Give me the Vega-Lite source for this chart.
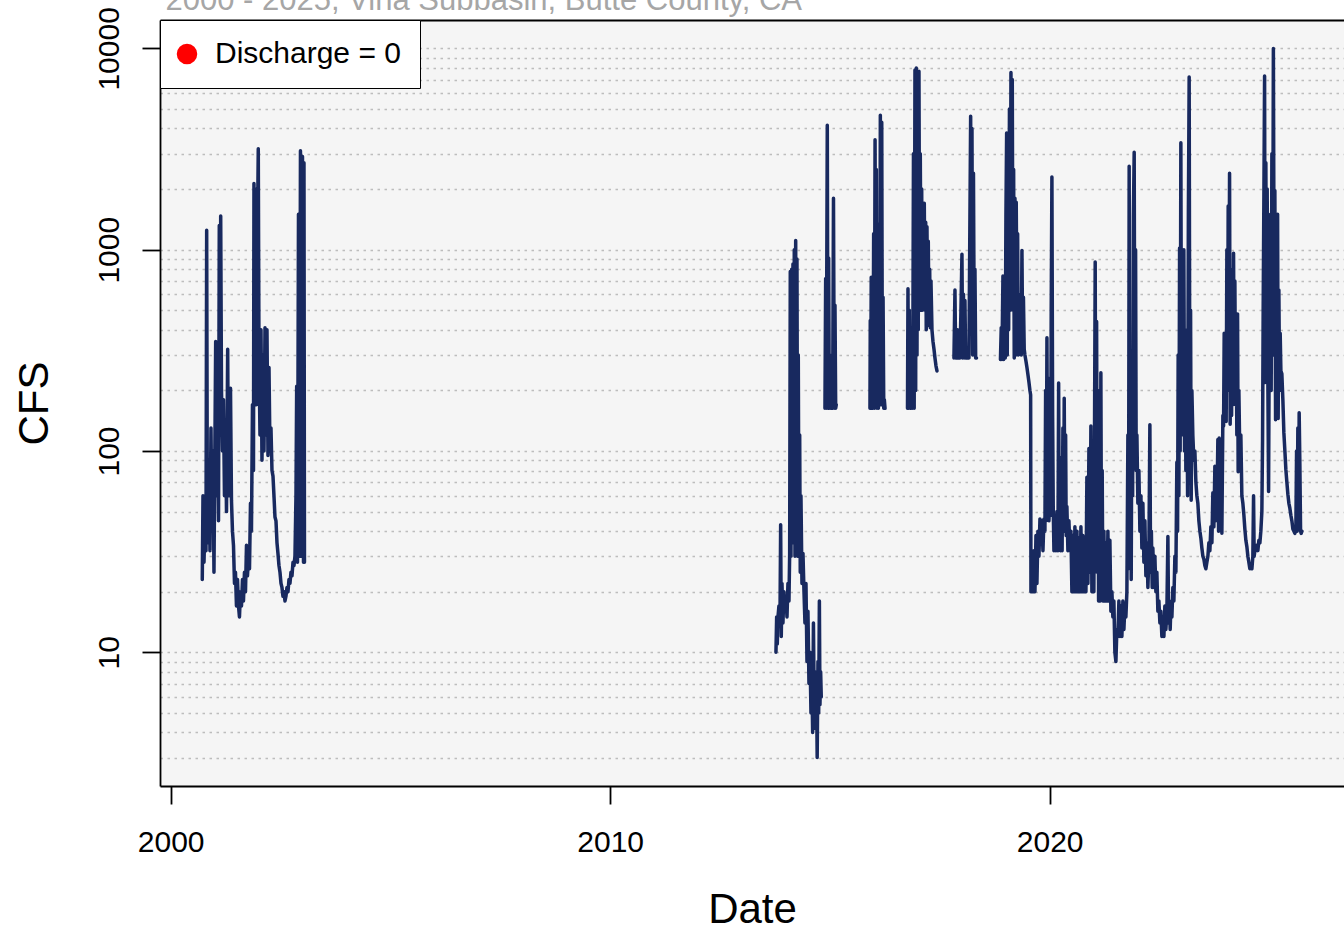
{
  "$schema": "https://vega.github.io/schema/vega-lite/v6.json",
  "autosize": "none",
  "width": 1184,
  "height": 766,
  "padding": {"left": 160, "top": 20, "right": 0, "bottom": 146},
  "background": "white",
  "config": {
    "font": "Liberation Sans",
    "view": {"stroke": null, "fill": "#F5F5F5"}
  },
  "data": {
    "values": [
      {"year": 2000.719, "cfs": 23}, {"year": 2000.735, "cfs": 60}, {"year": 2000.758, "cfs": 28}, {"year": 2000.780, "cfs": 45},
      {"year": 2000.803, "cfs": 32}, {"year": 2000.819, "cfs": 1250}, {"year": 2000.833, "cfs": 60}, {"year": 2000.849, "cfs": 35},
      {"year": 2000.871, "cfs": 90}, {"year": 2000.894, "cfs": 32}, {"year": 2000.917, "cfs": 130}, {"year": 2000.940, "cfs": 40},
      {"year": 2000.962, "cfs": 100}, {"year": 2000.985, "cfs": 25}, {"year": 2001.008, "cfs": 120}, {"year": 2001.024, "cfs": 350},
      {"year": 2001.042, "cfs": 60}, {"year": 2001.065, "cfs": 180}, {"year": 2001.088, "cfs": 45}, {"year": 2001.106, "cfs": 1320},
      {"year": 2001.122, "cfs": 120}, {"year": 2001.138, "cfs": 1470}, {"year": 2001.156, "cfs": 200}, {"year": 2001.179, "cfs": 100},
      {"year": 2001.201, "cfs": 180}, {"year": 2001.224, "cfs": 60}, {"year": 2001.247, "cfs": 140}, {"year": 2001.270, "cfs": 50},
      {"year": 2001.297, "cfs": 320}, {"year": 2001.315, "cfs": 60}, {"year": 2001.338, "cfs": 110}, {"year": 2001.361, "cfs": 205},
      {"year": 2001.383, "cfs": 57}, {"year": 2001.406, "cfs": 40}, {"year": 2001.429, "cfs": 34}, {"year": 2001.452, "cfs": 22},
      {"year": 2001.474, "cfs": 25}, {"year": 2001.497, "cfs": 17}, {"year": 2001.520, "cfs": 23}, {"year": 2001.543, "cfs": 17},
      {"year": 2001.565, "cfs": 15}, {"year": 2001.588, "cfs": 20}, {"year": 2001.611, "cfs": 17}, {"year": 2001.634, "cfs": 23},
      {"year": 2001.656, "cfs": 18}, {"year": 2001.679, "cfs": 25}, {"year": 2001.702, "cfs": 20}, {"year": 2001.725, "cfs": 34},
      {"year": 2001.747, "cfs": 24}, {"year": 2001.770, "cfs": 30}, {"year": 2001.793, "cfs": 26}, {"year": 2001.816, "cfs": 55},
      {"year": 2001.838, "cfs": 40}, {"year": 2001.861, "cfs": 170}, {"year": 2001.884, "cfs": 80}, {"year": 2001.895, "cfs": 2130},
      {"year": 2001.911, "cfs": 580}, {"year": 2001.929, "cfs": 2000}, {"year": 2001.948, "cfs": 170}, {"year": 2001.970, "cfs": 1000},
      {"year": 2001.993, "cfs": 3170}, {"year": 2002.009, "cfs": 300}, {"year": 2002.032, "cfs": 120}, {"year": 2002.055, "cfs": 400},
      {"year": 2002.077, "cfs": 90}, {"year": 2002.100, "cfs": 300}, {"year": 2002.123, "cfs": 100}, {"year": 2002.146, "cfs": 410},
      {"year": 2002.168, "cfs": 120}, {"year": 2002.191, "cfs": 400}, {"year": 2002.214, "cfs": 95}, {"year": 2002.237, "cfs": 260},
      {"year": 2002.259, "cfs": 100}, {"year": 2002.282, "cfs": 130}, {"year": 2002.305, "cfs": 80}, {"year": 2002.328, "cfs": 75},
      {"year": 2002.350, "cfs": 60}, {"year": 2002.373, "cfs": 47}, {"year": 2002.396, "cfs": 45}, {"year": 2002.419, "cfs": 35},
      {"year": 2002.441, "cfs": 31}, {"year": 2002.464, "cfs": 27}, {"year": 2002.487, "cfs": 25}, {"year": 2002.510, "cfs": 22},
      {"year": 2002.532, "cfs": 21}, {"year": 2002.555, "cfs": 19}, {"year": 2002.578, "cfs": 20}, {"year": 2002.601, "cfs": 18},
      {"year": 2002.623, "cfs": 19}, {"year": 2002.646, "cfs": 21}, {"year": 2002.669, "cfs": 20}, {"year": 2002.692, "cfs": 23},
      {"year": 2002.714, "cfs": 22}, {"year": 2002.737, "cfs": 25}, {"year": 2002.760, "cfs": 24}, {"year": 2002.783, "cfs": 28},
      {"year": 2002.805, "cfs": 27}, {"year": 2002.828, "cfs": 30}, {"year": 2002.851, "cfs": 60}, {"year": 2002.867, "cfs": 210},
      {"year": 2002.885, "cfs": 28}, {"year": 2002.908, "cfs": 1500}, {"year": 2002.931, "cfs": 30}, {"year": 2002.953, "cfs": 3100},
      {"year": 2002.976, "cfs": 30}, {"year": 2002.999, "cfs": 2900}, {"year": 2003.022, "cfs": 28}, {"year": 2003.033, "cfs": 2700},
      {"year": 2003.044, "cfs": 28},
      {"year": 2003.5, "cfs": null},
      {"year": 2013.772, "cfs": 10}, {"year": 2013.788, "cfs": 15}, {"year": 2013.802, "cfs": 11}, {"year": 2013.818, "cfs": 15},
      {"year": 2013.840, "cfs": 17}, {"year": 2013.863, "cfs": 14}, {"year": 2013.879, "cfs": 43}, {"year": 2013.893, "cfs": 12},
      {"year": 2013.909, "cfs": 22}, {"year": 2013.931, "cfs": 14}, {"year": 2013.954, "cfs": 20}, {"year": 2013.977, "cfs": 16},
      {"year": 2014.000, "cfs": 19}, {"year": 2014.023, "cfs": 15}, {"year": 2014.045, "cfs": 22}, {"year": 2014.068, "cfs": 18},
      {"year": 2014.084, "cfs": 31}, {"year": 2014.098, "cfs": 780}, {"year": 2014.114, "cfs": 30}, {"year": 2014.130, "cfs": 800},
      {"year": 2014.143, "cfs": 40}, {"year": 2014.159, "cfs": 850}, {"year": 2014.175, "cfs": 35}, {"year": 2014.189, "cfs": 1000},
      {"year": 2014.205, "cfs": 30}, {"year": 2014.221, "cfs": 1110}, {"year": 2014.234, "cfs": 40}, {"year": 2014.250, "cfs": 900},
      {"year": 2014.266, "cfs": 30}, {"year": 2014.280, "cfs": 300}, {"year": 2014.296, "cfs": 30}, {"year": 2014.312, "cfs": 120},
      {"year": 2014.325, "cfs": 25}, {"year": 2014.341, "cfs": 60}, {"year": 2014.364, "cfs": 22}, {"year": 2014.387, "cfs": 31},
      {"year": 2014.410, "cfs": 20}, {"year": 2014.432, "cfs": 14}, {"year": 2014.455, "cfs": 22}, {"year": 2014.478, "cfs": 9},
      {"year": 2014.500, "cfs": 16}, {"year": 2014.523, "cfs": 7}, {"year": 2014.546, "cfs": 10}, {"year": 2014.569, "cfs": 5},
      {"year": 2014.591, "cfs": 7}, {"year": 2014.607, "cfs": 4}, {"year": 2014.625, "cfs": 14}, {"year": 2014.644, "cfs": 5},
      {"year": 2014.660, "cfs": 8}, {"year": 2014.676, "cfs": 4.2}, {"year": 2014.694, "cfs": 7}, {"year": 2014.710, "cfs": 3},
      {"year": 2014.728, "cfs": 9}, {"year": 2014.744, "cfs": 5}, {"year": 2014.760, "cfs": 18}, {"year": 2014.773, "cfs": 5.5},
      {"year": 2014.789, "cfs": 8}, {"year": 2014.803, "cfs": 6},
      {"year": 2014.85, "cfs": null},
      {"year": 2014.887, "cfs": 163}, {"year": 2014.903, "cfs": 720}, {"year": 2014.917, "cfs": 163}, {"year": 2014.940, "cfs": 4150},
      {"year": 2014.956, "cfs": 163}, {"year": 2014.971, "cfs": 910}, {"year": 2014.985, "cfs": 163}, {"year": 2015.001, "cfs": 300},
      {"year": 2015.017, "cfs": 163}, {"year": 2015.062, "cfs": 163}, {"year": 2015.081, "cfs": 1800}, {"year": 2015.099, "cfs": 163},
      {"year": 2015.115, "cfs": 530}, {"year": 2015.131, "cfs": 163}, {"year": 2015.144, "cfs": 170},
      {"year": 2015.5, "cfs": null},
      {"year": 2015.911, "cfs": 163}, {"year": 2015.918, "cfs": 445}, {"year": 2015.927, "cfs": 163}, {"year": 2015.940, "cfs": 730},
      {"year": 2015.952, "cfs": 163}, {"year": 2015.968, "cfs": 600}, {"year": 2015.979, "cfs": 163}, {"year": 2015.995, "cfs": 1200},
      {"year": 2016.011, "cfs": 163}, {"year": 2016.027, "cfs": 3520}, {"year": 2016.043, "cfs": 200}, {"year": 2016.056, "cfs": 2500},
      {"year": 2016.072, "cfs": 163}, {"year": 2016.088, "cfs": 1340}, {"year": 2016.102, "cfs": 163}, {"year": 2016.118, "cfs": 900},
      {"year": 2016.134, "cfs": 180}, {"year": 2016.147, "cfs": 4650}, {"year": 2016.163, "cfs": 170}, {"year": 2016.179, "cfs": 4300},
      {"year": 2016.193, "cfs": 200}, {"year": 2016.209, "cfs": 580}, {"year": 2016.225, "cfs": 163}, {"year": 2016.238, "cfs": 180},
      {"year": 2016.254, "cfs": 163},
      {"year": 2016.5, "cfs": null},
      {"year": 2016.765, "cfs": 163}, {"year": 2016.776, "cfs": 640}, {"year": 2016.788, "cfs": 163}, {"year": 2016.806, "cfs": 500},
      {"year": 2016.822, "cfs": 163}, {"year": 2016.838, "cfs": 350}, {"year": 2016.851, "cfs": 163}, {"year": 2016.867, "cfs": 250},
      {"year": 2016.883, "cfs": 163}, {"year": 2016.901, "cfs": 3000}, {"year": 2016.917, "cfs": 163}, {"year": 2016.935, "cfs": 7800},
      {"year": 2016.951, "cfs": 200}, {"year": 2016.965, "cfs": 8000}, {"year": 2016.981, "cfs": 300}, {"year": 2016.997, "cfs": 6500},
      {"year": 2017.010, "cfs": 400}, {"year": 2017.026, "cfs": 7700}, {"year": 2017.042, "cfs": 500}, {"year": 2017.056, "cfs": 3000},
      {"year": 2017.072, "cfs": 600}, {"year": 2017.088, "cfs": 2000}, {"year": 2017.101, "cfs": 500}, {"year": 2017.117, "cfs": 1500},
      {"year": 2017.133, "cfs": 600}, {"year": 2017.147, "cfs": 1700}, {"year": 2017.163, "cfs": 500}, {"year": 2017.179, "cfs": 1370},
      {"year": 2017.192, "cfs": 400}, {"year": 2017.208, "cfs": 1300}, {"year": 2017.224, "cfs": 450}, {"year": 2017.238, "cfs": 1100},
      {"year": 2017.254, "cfs": 420}, {"year": 2017.270, "cfs": 800}, {"year": 2017.283, "cfs": 410}, {"year": 2017.299, "cfs": 700},
      {"year": 2017.322, "cfs": 400}, {"year": 2017.345, "cfs": 350}, {"year": 2017.368, "cfs": 320}, {"year": 2017.390, "cfs": 290},
      {"year": 2017.413, "cfs": 265}, {"year": 2017.436, "cfs": 250},
      {"year": 2017.6, "cfs": null},
      {"year": 2017.822, "cfs": 290}, {"year": 2017.845, "cfs": 630}, {"year": 2017.861, "cfs": 290}, {"year": 2017.890, "cfs": 290},
      {"year": 2017.902, "cfs": 400}, {"year": 2017.913, "cfs": 290}, {"year": 2017.959, "cfs": 290}, {"year": 2017.981, "cfs": 500},
      {"year": 2018.004, "cfs": 950}, {"year": 2018.020, "cfs": 290}, {"year": 2018.038, "cfs": 600}, {"year": 2018.054, "cfs": 290},
      {"year": 2018.072, "cfs": 560}, {"year": 2018.088, "cfs": 290}, {"year": 2018.118, "cfs": 290}, {"year": 2018.141, "cfs": 300},
      {"year": 2018.163, "cfs": 290}, {"year": 2018.186, "cfs": 1500}, {"year": 2018.202, "cfs": 4600}, {"year": 2018.216, "cfs": 700},
      {"year": 2018.232, "cfs": 4000}, {"year": 2018.248, "cfs": 300}, {"year": 2018.266, "cfs": 2400}, {"year": 2018.284, "cfs": 350},
      {"year": 2018.300, "cfs": 800}, {"year": 2018.316, "cfs": 290}, {"year": 2018.335, "cfs": 290},
      {"year": 2018.6, "cfs": null},
      {"year": 2018.880, "cfs": 285}, {"year": 2018.898, "cfs": 410}, {"year": 2018.914, "cfs": 285}, {"year": 2018.937, "cfs": 740},
      {"year": 2018.953, "cfs": 285}, {"year": 2018.971, "cfs": 600}, {"year": 2018.989, "cfs": 290}, {"year": 2019.005, "cfs": 1500},
      {"year": 2019.021, "cfs": 3800}, {"year": 2019.035, "cfs": 300}, {"year": 2019.051, "cfs": 3000}, {"year": 2019.067, "cfs": 400},
      {"year": 2019.085, "cfs": 5000}, {"year": 2019.103, "cfs": 500}, {"year": 2019.119, "cfs": 7600}, {"year": 2019.135, "cfs": 600},
      {"year": 2019.149, "cfs": 7000}, {"year": 2019.164, "cfs": 500}, {"year": 2019.180, "cfs": 2500}, {"year": 2019.194, "cfs": 290},
      {"year": 2019.210, "cfs": 1800}, {"year": 2019.226, "cfs": 300}, {"year": 2019.239, "cfs": 1720}, {"year": 2019.255, "cfs": 505},
      {"year": 2019.271, "cfs": 1200}, {"year": 2019.285, "cfs": 300}, {"year": 2019.301, "cfs": 600}, {"year": 2019.317, "cfs": 320},
      {"year": 2019.335, "cfs": 400}, {"year": 2019.353, "cfs": 300}, {"year": 2019.369, "cfs": 990}, {"year": 2019.385, "cfs": 350},
      {"year": 2019.403, "cfs": 580}, {"year": 2019.421, "cfs": 320}, {"year": 2019.437, "cfs": 300}, {"year": 2019.460, "cfs": 280},
      {"year": 2019.483, "cfs": 260}, {"year": 2019.505, "cfs": 240}, {"year": 2019.528, "cfs": 220}, {"year": 2019.551, "cfs": 200},
      {"year": 2019.567, "cfs": 190}, {"year": 2019.574, "cfs": 20}, {"year": 2019.597, "cfs": 24}, {"year": 2019.619, "cfs": 20},
      {"year": 2019.642, "cfs": 32}, {"year": 2019.665, "cfs": 20}, {"year": 2019.688, "cfs": 38}, {"year": 2019.710, "cfs": 22},
      {"year": 2019.733, "cfs": 40}, {"year": 2019.756, "cfs": 30}, {"year": 2019.779, "cfs": 46}, {"year": 2019.801, "cfs": 35},
      {"year": 2019.824, "cfs": 45}, {"year": 2019.847, "cfs": 32}, {"year": 2019.870, "cfs": 46}, {"year": 2019.892, "cfs": 40},
      {"year": 2019.908, "cfs": 200}, {"year": 2019.922, "cfs": 45}, {"year": 2019.938, "cfs": 365}, {"year": 2019.954, "cfs": 50},
      {"year": 2019.967, "cfs": 230}, {"year": 2019.983, "cfs": 45}, {"year": 2020.006, "cfs": 60}, {"year": 2020.022, "cfs": 48},
      {"year": 2020.035, "cfs": 500}, {"year": 2020.051, "cfs": 2300}, {"year": 2020.067, "cfs": 150}, {"year": 2020.081, "cfs": 53},
      {"year": 2020.097, "cfs": 32}, {"year": 2020.119, "cfs": 45}, {"year": 2020.142, "cfs": 32}, {"year": 2020.165, "cfs": 50},
      {"year": 2020.188, "cfs": 32}, {"year": 2020.204, "cfs": 218}, {"year": 2020.217, "cfs": 40}, {"year": 2020.233, "cfs": 93},
      {"year": 2020.249, "cfs": 32}, {"year": 2020.267, "cfs": 80}, {"year": 2020.283, "cfs": 32}, {"year": 2020.301, "cfs": 130},
      {"year": 2020.317, "cfs": 40}, {"year": 2020.331, "cfs": 183}, {"year": 2020.347, "cfs": 45}, {"year": 2020.363, "cfs": 120},
      {"year": 2020.376, "cfs": 38}, {"year": 2020.392, "cfs": 53}, {"year": 2020.415, "cfs": 32}, {"year": 2020.438, "cfs": 45},
      {"year": 2020.461, "cfs": 32}, {"year": 2020.483, "cfs": 40}, {"year": 2020.506, "cfs": 20}, {"year": 2020.529, "cfs": 38},
      {"year": 2020.552, "cfs": 20}, {"year": 2020.574, "cfs": 42}, {"year": 2020.597, "cfs": 20}, {"year": 2020.620, "cfs": 40},
      {"year": 2020.643, "cfs": 20}, {"year": 2020.665, "cfs": 37}, {"year": 2020.688, "cfs": 20}, {"year": 2020.711, "cfs": 42},
      {"year": 2020.734, "cfs": 20}, {"year": 2020.756, "cfs": 38}, {"year": 2020.779, "cfs": 20}, {"year": 2020.802, "cfs": 35},
      {"year": 2020.825, "cfs": 20}, {"year": 2020.847, "cfs": 74}, {"year": 2020.870, "cfs": 22}, {"year": 2020.893, "cfs": 103},
      {"year": 2020.916, "cfs": 25}, {"year": 2020.938, "cfs": 133}, {"year": 2020.961, "cfs": 20}, {"year": 2020.984, "cfs": 90},
      {"year": 2021.006, "cfs": 20}, {"year": 2021.036, "cfs": 870}, {"year": 2021.052, "cfs": 40}, {"year": 2021.068, "cfs": 440},
      {"year": 2021.081, "cfs": 25}, {"year": 2021.097, "cfs": 200}, {"year": 2021.113, "cfs": 18}, {"year": 2021.131, "cfs": 100},
      {"year": 2021.149, "cfs": 18}, {"year": 2021.165, "cfs": 245}, {"year": 2021.181, "cfs": 20}, {"year": 2021.195, "cfs": 80},
      {"year": 2021.211, "cfs": 18}, {"year": 2021.234, "cfs": 40}, {"year": 2021.256, "cfs": 18}, {"year": 2021.279, "cfs": 35},
      {"year": 2021.302, "cfs": 18}, {"year": 2021.325, "cfs": 40}, {"year": 2021.347, "cfs": 18}, {"year": 2021.370, "cfs": 36},
      {"year": 2021.393, "cfs": 16}, {"year": 2021.416, "cfs": 20}, {"year": 2021.438, "cfs": 15}, {"year": 2021.461, "cfs": 18},
      {"year": 2021.484, "cfs": 10}, {"year": 2021.507, "cfs": 9}, {"year": 2021.529, "cfs": 13}, {"year": 2021.552, "cfs": 12},
      {"year": 2021.575, "cfs": 18}, {"year": 2021.598, "cfs": 12}, {"year": 2021.620, "cfs": 17}, {"year": 2021.643, "cfs": 12},
      {"year": 2021.666, "cfs": 18}, {"year": 2021.689, "cfs": 13}, {"year": 2021.711, "cfs": 17}, {"year": 2021.734, "cfs": 15},
      {"year": 2021.757, "cfs": 20}, {"year": 2021.780, "cfs": 120}, {"year": 2021.795, "cfs": 30}, {"year": 2021.809, "cfs": 2600},
      {"year": 2021.825, "cfs": 26}, {"year": 2021.841, "cfs": 295}, {"year": 2021.855, "cfs": 23}, {"year": 2021.871, "cfs": 200},
      {"year": 2021.887, "cfs": 60}, {"year": 2021.905, "cfs": 1470}, {"year": 2021.923, "cfs": 3050}, {"year": 2021.939, "cfs": 119},
      {"year": 2021.955, "cfs": 1000}, {"year": 2021.969, "cfs": 80}, {"year": 2021.985, "cfs": 120}, {"year": 2022.007, "cfs": 55},
      {"year": 2022.030, "cfs": 80}, {"year": 2022.053, "cfs": 40}, {"year": 2022.076, "cfs": 60}, {"year": 2022.098, "cfs": 33},
      {"year": 2022.121, "cfs": 55}, {"year": 2022.144, "cfs": 28}, {"year": 2022.167, "cfs": 45}, {"year": 2022.189, "cfs": 24},
      {"year": 2022.212, "cfs": 35}, {"year": 2022.235, "cfs": 21}, {"year": 2022.257, "cfs": 30}, {"year": 2022.280, "cfs": 135},
      {"year": 2022.296, "cfs": 25}, {"year": 2022.314, "cfs": 40}, {"year": 2022.333, "cfs": 21}, {"year": 2022.348, "cfs": 33},
      {"year": 2022.371, "cfs": 21}, {"year": 2022.394, "cfs": 30}, {"year": 2022.417, "cfs": 20}, {"year": 2022.439, "cfs": 25},
      {"year": 2022.462, "cfs": 16}, {"year": 2022.485, "cfs": 18}, {"year": 2022.508, "cfs": 14}, {"year": 2022.530, "cfs": 16},
      {"year": 2022.553, "cfs": 12}, {"year": 2022.576, "cfs": 15}, {"year": 2022.599, "cfs": 12}, {"year": 2022.621, "cfs": 17},
      {"year": 2022.644, "cfs": 13}, {"year": 2022.667, "cfs": 16}, {"year": 2022.690, "cfs": 37.6}, {"year": 2022.706, "cfs": 14},
      {"year": 2022.724, "cfs": 18}, {"year": 2022.742, "cfs": 13}, {"year": 2022.758, "cfs": 17}, {"year": 2022.781, "cfs": 15},
      {"year": 2022.803, "cfs": 21}, {"year": 2022.826, "cfs": 18}, {"year": 2022.849, "cfs": 30}, {"year": 2022.872, "cfs": 25},
      {"year": 2022.894, "cfs": 88}, {"year": 2022.910, "cfs": 40}, {"year": 2022.924, "cfs": 300}, {"year": 2022.940, "cfs": 60},
      {"year": 2022.956, "cfs": 1020}, {"year": 2022.969, "cfs": 100}, {"year": 2022.985, "cfs": 3400}, {"year": 2023.001, "cfs": 120},
      {"year": 2023.015, "cfs": 500}, {"year": 2023.031, "cfs": 150}, {"year": 2023.053, "cfs": 1000}, {"year": 2023.069, "cfs": 100},
      {"year": 2023.083, "cfs": 400}, {"year": 2023.099, "cfs": 80}, {"year": 2023.122, "cfs": 300}, {"year": 2023.138, "cfs": 60},
      {"year": 2023.156, "cfs": 1500}, {"year": 2023.174, "cfs": 7200}, {"year": 2023.190, "cfs": 100}, {"year": 2023.206, "cfs": 500},
      {"year": 2023.220, "cfs": 57}, {"year": 2023.236, "cfs": 200}, {"year": 2023.258, "cfs": 119}, {"year": 2023.281, "cfs": 90},
      {"year": 2023.304, "cfs": 100}, {"year": 2023.327, "cfs": 70}, {"year": 2023.349, "cfs": 60}, {"year": 2023.372, "cfs": 55},
      {"year": 2023.395, "cfs": 45}, {"year": 2023.418, "cfs": 40}, {"year": 2023.440, "cfs": 37}, {"year": 2023.463, "cfs": 33},
      {"year": 2023.486, "cfs": 30}, {"year": 2023.509, "cfs": 29}, {"year": 2023.531, "cfs": 27}, {"year": 2023.554, "cfs": 26},
      {"year": 2023.577, "cfs": 28}, {"year": 2023.600, "cfs": 30}, {"year": 2023.622, "cfs": 35}, {"year": 2023.645, "cfs": 32},
      {"year": 2023.668, "cfs": 42}, {"year": 2023.691, "cfs": 35}, {"year": 2023.713, "cfs": 62}, {"year": 2023.736, "cfs": 42},
      {"year": 2023.759, "cfs": 84}, {"year": 2023.775, "cfs": 45}, {"year": 2023.788, "cfs": 62}, {"year": 2023.804, "cfs": 50},
      {"year": 2023.827, "cfs": 114}, {"year": 2023.843, "cfs": 40}, {"year": 2023.857, "cfs": 116}, {"year": 2023.873, "cfs": 45},
      {"year": 2023.895, "cfs": 100}, {"year": 2023.918, "cfs": 39}, {"year": 2023.941, "cfs": 150}, {"year": 2023.957, "cfs": 133},
      {"year": 2023.971, "cfs": 385}, {"year": 2023.986, "cfs": 140}, {"year": 2024.002, "cfs": 300}, {"year": 2024.016, "cfs": 140},
      {"year": 2024.032, "cfs": 1000}, {"year": 2024.048, "cfs": 200}, {"year": 2024.062, "cfs": 1650}, {"year": 2024.077, "cfs": 300},
      {"year": 2024.093, "cfs": 2400}, {"year": 2024.107, "cfs": 136}, {"year": 2024.123, "cfs": 800}, {"year": 2024.139, "cfs": 150},
      {"year": 2024.153, "cfs": 500}, {"year": 2024.168, "cfs": 170}, {"year": 2024.184, "cfs": 960}, {"year": 2024.198, "cfs": 200},
      {"year": 2024.214, "cfs": 700}, {"year": 2024.230, "cfs": 170}, {"year": 2024.243, "cfs": 400}, {"year": 2024.259, "cfs": 120},
      {"year": 2024.275, "cfs": 480}, {"year": 2024.289, "cfs": 79}, {"year": 2024.305, "cfs": 200}, {"year": 2024.328, "cfs": 90},
      {"year": 2024.350, "cfs": 120}, {"year": 2024.373, "cfs": 60}, {"year": 2024.396, "cfs": 55}, {"year": 2024.419, "cfs": 48},
      {"year": 2024.441, "cfs": 41}, {"year": 2024.464, "cfs": 36}, {"year": 2024.487, "cfs": 33.5}, {"year": 2024.510, "cfs": 30},
      {"year": 2024.532, "cfs": 28}, {"year": 2024.555, "cfs": 26}, {"year": 2024.578, "cfs": 27}, {"year": 2024.601, "cfs": 26},
      {"year": 2024.623, "cfs": 30}, {"year": 2024.639, "cfs": 60}, {"year": 2024.653, "cfs": 30}, {"year": 2024.669, "cfs": 32},
      {"year": 2024.692, "cfs": 32}, {"year": 2024.714, "cfs": 34}, {"year": 2024.737, "cfs": 32}, {"year": 2024.760, "cfs": 36},
      {"year": 2024.783, "cfs": 35}, {"year": 2024.805, "cfs": 40}, {"year": 2024.828, "cfs": 50}, {"year": 2024.844, "cfs": 114},
      {"year": 2024.858, "cfs": 500}, {"year": 2024.874, "cfs": 1820}, {"year": 2024.890, "cfs": 7300}, {"year": 2024.903, "cfs": 219},
      {"year": 2024.919, "cfs": 2700}, {"year": 2024.935, "cfs": 300}, {"year": 2024.949, "cfs": 2000}, {"year": 2024.965, "cfs": 219},
      {"year": 2024.981, "cfs": 63}, {"year": 2024.994, "cfs": 300}, {"year": 2025.010, "cfs": 219}, {"year": 2025.026, "cfs": 1500},
      {"year": 2025.040, "cfs": 200}, {"year": 2025.056, "cfs": 3000}, {"year": 2025.072, "cfs": 300}, {"year": 2025.090, "cfs": 10000},
      {"year": 2025.108, "cfs": 500}, {"year": 2025.124, "cfs": 1970}, {"year": 2025.140, "cfs": 143}, {"year": 2025.154, "cfs": 800},
      {"year": 2025.170, "cfs": 200}, {"year": 2025.186, "cfs": 1500}, {"year": 2025.199, "cfs": 145}, {"year": 2025.215, "cfs": 630},
      {"year": 2025.231, "cfs": 200}, {"year": 2025.245, "cfs": 385}, {"year": 2025.261, "cfs": 250}, {"year": 2025.283, "cfs": 242},
      {"year": 2025.306, "cfs": 180}, {"year": 2025.329, "cfs": 123}, {"year": 2025.352, "cfs": 100}, {"year": 2025.374, "cfs": 81},
      {"year": 2025.397, "cfs": 70}, {"year": 2025.420, "cfs": 61}, {"year": 2025.443, "cfs": 55}, {"year": 2025.465, "cfs": 52},
      {"year": 2025.488, "cfs": 48}, {"year": 2025.511, "cfs": 45}, {"year": 2025.534, "cfs": 41}, {"year": 2025.556, "cfs": 40},
      {"year": 2025.579, "cfs": 39}, {"year": 2025.602, "cfs": 41}, {"year": 2025.618, "cfs": 100}, {"year": 2025.631, "cfs": 40},
      {"year": 2025.647, "cfs": 130}, {"year": 2025.663, "cfs": 45}, {"year": 2025.677, "cfs": 155}, {"year": 2025.693, "cfs": 85},
      {"year": 2025.709, "cfs": 40}, {"year": 2025.722, "cfs": 39}, {"year": 2025.738, "cfs": 40}
    ]
  },
  "layer": [
    {
      "mark": {"type": "line", "color": "#18295F", "strokeWidth": 3.5, "strokeJoin": "round", "strokeCap": "round"},
      "encoding": {
        "x": {
          "field": "year", "type": "quantitative",
          "scale": {"domain": [1999.757, 2026.697], "nice": false, "zero": false},
          "axis": {
            "orient": "bottom", "values": [2000, 2010, 2020], "format": "d",
            "labelFontSize": 30, "labelColor": "black", "labelPadding": 23, "labelFlush": false,
            "tickSize": 18, "tickWidth": 1.8, "tickColor": "black",
            "domainColor": "black", "domainWidth": 1.8, "grid": false,
            "title": "Date", "titleFontSize": 42, "titleFontWeight": "normal", "titleColor": "black", "titlePadding": 32
          }
        },
        "y": {
          "field": "cfs", "type": "quantitative",
          "scale": {"type": "log", "domain": [2.168, 13836], "nice": false},
          "axis": {
            "orient": "left",
            "values": [3, 4, 5, 6, 7, 8, 9, 10, 20, 30, 40, 50, 60, 70, 80, 90, 100, 200, 300, 400, 500, 600, 700, 800, 900, 1000, 2000, 3000, 4000, 5000, 6000, 7000, 8000, 9000, 10000],
            "format": "d",
            "labelExpr": "indexof([10, 100, 1000, 10000], datum.value) >= 0 ? datum.label : ''",
            "labelOverlap": false, "labelFlush": false,
            "labelAngle": 270, "labelAlign": "center", "labelBaseline": "bottom",
            "labelFontSize": 30, "labelColor": "black", "labelPadding": 18,
            "tickSize": 18, "tickWidth": 1.8, "tickColor": "black",
            "tickOpacity": {"condition": {"test": "indexof([10, 100, 1000, 10000], datum.value) >= 0", "value": 1}, "value": 0},
            "domainColor": "black", "domainWidth": 1.8,
            "grid": true, "gridColor": "#BDBDBD", "gridDash": [2.5, 4.5], "gridWidth": 1.4,
            "title": "CFS", "titleFontSize": 42, "titleFontWeight": "normal", "titleColor": "black", "titlePadding": 38
          }
        }
      }
    },
    {
      "transform": [{"filter": "datum.cfs === 0"}],
      "mark": {"type": "point", "filled": true, "size": 400, "opacity": 1},
      "encoding": {
        "x": {
          "field": "year", "type": "quantitative",
          "axis": {
            "orient": "top", "domain": true, "domainColor": "black", "domainWidth": 1.8, "ticks": false, "labels": false, "grid": false,
            "title": "2000 - 2025, Vina Subbasin, Butte County, CA",
            "titleFontSize": 31, "titleFontWeight": "normal", "titleColor": "#A6A6A6",
            "titleAnchor": "start", "titleAlign": "left", "titleBaseline": "alphabetic", "titleAngle": 0,
            "titleX": 5, "titleY": -11
          }
        },
        "color": {
          "datum": "Discharge = 0", "type": "nominal",
          "scale": {"domain": ["Discharge = 0"], "range": ["#FF0000"]},
          "legend": {
            "orient": "top-left", "offset": 0, "title": null,
            "padding": 19, "fillColor": "white", "strokeColor": "black", "cornerRadius": 0,
            "symbolType": "circle", "symbolSize": 420, "symbolStrokeWidth": 0, "symbolOpacity": 1,
            "symbolOffset": -7,
            "labelFontSize": 30, "labelColor": "black", "labelOffset": 13, "labelLimit": 400
          }
        }
      }
    }
  ],
  "resolve": {"axis": {"x": "independent"}}
}
